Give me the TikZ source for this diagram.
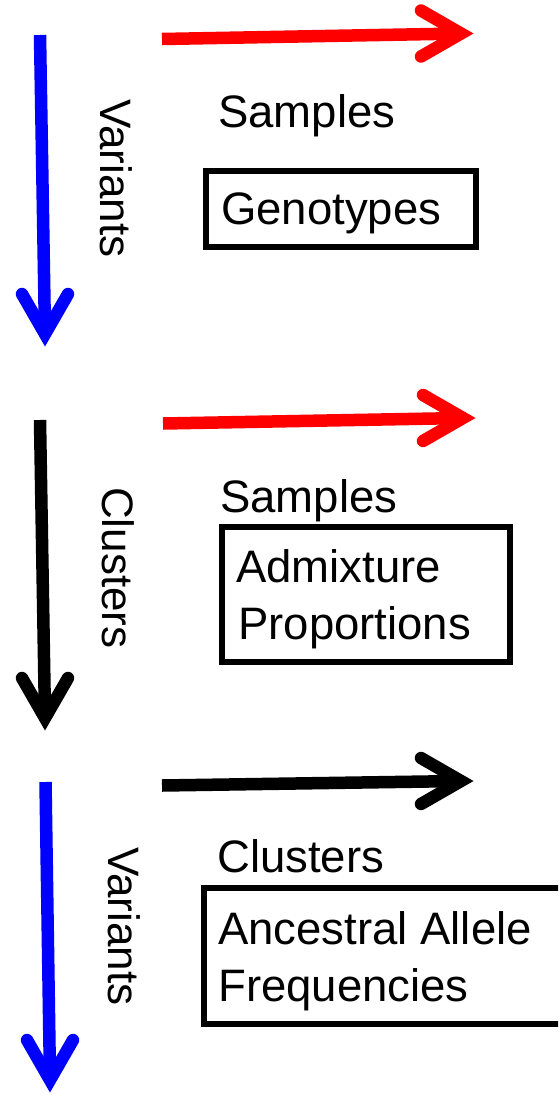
\documentclass[tikz,border=0pt]{standalone}
\usepackage{fontspec}
\setmainfont{Liberation Sans}
\definecolor{arrred}{RGB}{255,0,0}
\definecolor{arrblue}{RGB}{0,0,255}
\begin{document}
\begin{tikzpicture}[x=1pt,y=-1pt,
  shaft/.style={line width=12.5pt, line cap=butt},
  head/.style={line width=12.5pt, line cap=round, line join=miter},
  lbl/.style={inner sep=0pt, font=\fontsize{45.5}{54}\selectfont, anchor=base west},
  vlbl/.style={inner sep=0pt, font=\fontsize{44}{52}\selectfont, rotate=-90, anchor=base west},
  box/.style={draw, line width=6pt, inner sep=0pt, anchor=north west}]
\clip (0,0) rectangle (558,1095);
\fill[white] (0,0) rectangle (558,1095);

% ---------- section 1 ----------
\coordinate (a1s) at (40,35);   \coordinate (a1e) at (45,334);
\coordinate (r1s) at (162,39);  \coordinate (r1e) at (461,33.5);
\draw[shaft, arrblue] (a1s) -- (a1e);
\draw[head, arrblue] (a1e) ++(-23,-40) -- (a1e) -- ++(23,-40);
\draw[shaft, arrred] (r1s) -- (r1e);
\draw[head, arrred] (r1e) ++(-40,-23) -- (r1e) -- ++(-40,23);
\node[vlbl] (var1) at (100,99) {Variants};
\node[lbl] (samp1) at (218,127) {Samples};
\node[box, minimum width=270.5pt, minimum height=76.5pt] (box1) at (202.5,167.5) {};
\node[lbl] (geno) at (221,224) {Genotypes};

% ---------- section 2 ----------
\coordinate (a2s) at (40,420);  \coordinate (a2e) at (45,718);
\coordinate (r2s) at (163,423.5); \coordinate (r2e) at (463,418);
\draw[shaft, black] (a2s) -- (a2e);
\draw[head, black] (a2e) ++(-23,-40) -- (a2e) -- ++(23,-40);
\draw[shaft, arrred] (r2s) -- (r2e);
\draw[head, arrred] (r2e) ++(-40,-23) -- (r2e) -- ++(-40,23);
\node[vlbl] (clu2) at (102,487) {Clusters};
\node[lbl] (samp2) at (220,512) {Samples};
\node[box, minimum width=288pt, minimum height=135pt] (box2) at (219,524) {};
\node[lbl] (adm) at (236,582) {Admixture};
\node[lbl] (prop) at (238,639) {Proportions};

% ---------- section 3 ----------
\coordinate (a3s) at (45.5,782); \coordinate (a3e) at (50,1080);
\coordinate (r3s) at (162,785.5); \coordinate (r3e) at (461,781);
\draw[shaft, arrblue] (a3s) -- (a3e);
\draw[head, arrblue] (a3e) ++(-23,-40) -- (a3e) -- ++(23,-40);
\draw[shaft, black] (r3s) -- (r3e);
\draw[head, black] (r3e) ++(-40,-23) -- (r3e) -- ++(-40,23);
\node[vlbl] (var3) at (108,847) {Variants};
\node[lbl] (clu3) at (217,872) {Clusters};
\node[box, minimum width=399pt, minimum height=136pt] (box3) at (201,885) {};
\node[lbl] (anc) at (218,944) {Ancestral Allele};
\node[lbl] (freq) at (218,1001) {Frequencies};
\end{tikzpicture}
\end{document}
